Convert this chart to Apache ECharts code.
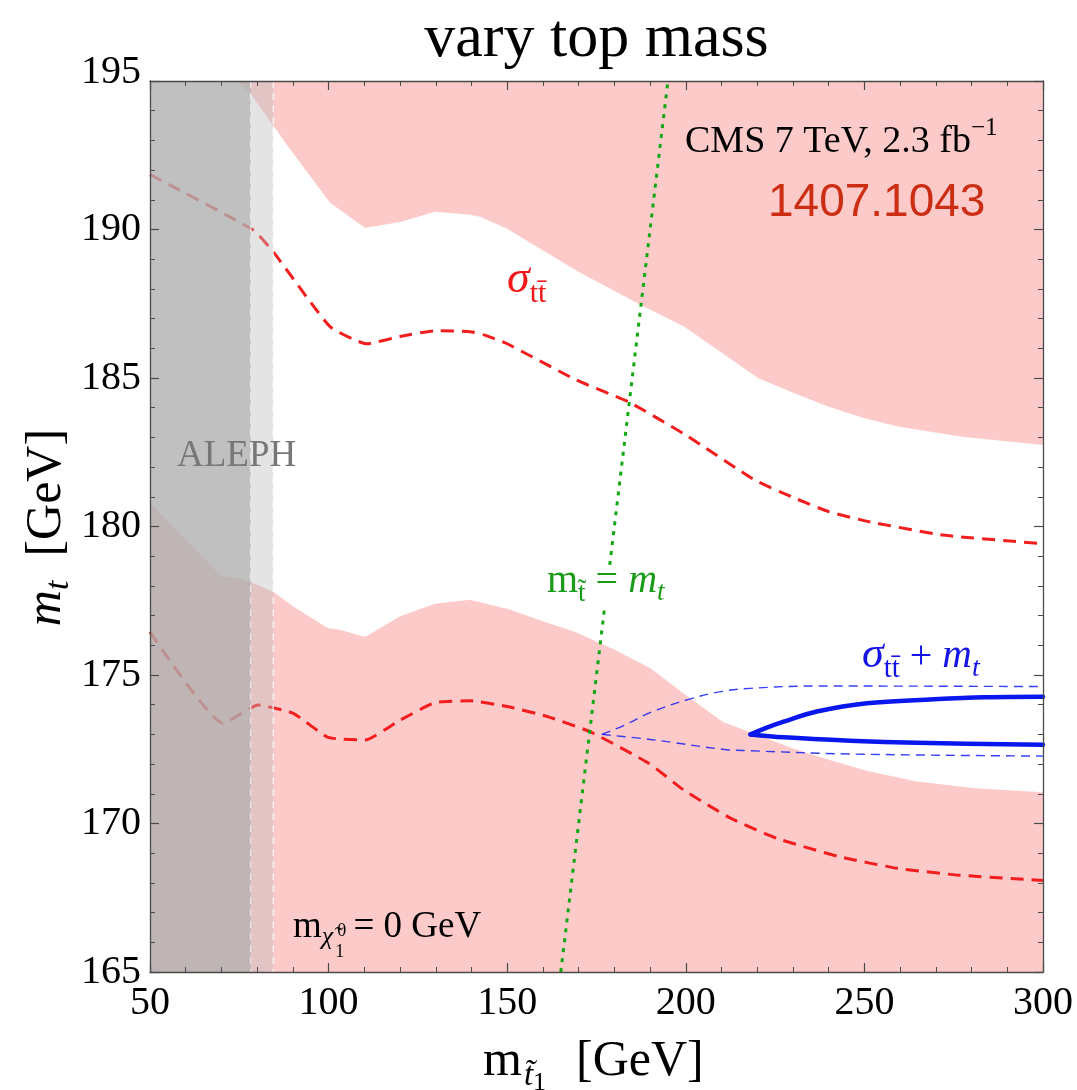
<!DOCTYPE html>
<html>
<head>
<meta charset="utf-8">
<title>vary top mass</title>
<script src="https://cdn.jsdelivr.net/npm/echarts@6/dist/echarts.min.js"></script>
<style>
  html, body { margin: 0; padding: 0; background: #ffffff; }
  #chart { width: 1077px; height: 1090px; }
</style>
</head>
<body>
<div id="chart"></div>
<script>
// Axis ranges (GeV): stop mass on x, top mass on y
const xRange = [50, 300];
const yRange = [165, 195];
const xStep = 50;
const yStep = 5;

// Cross-section exclusion: edge of the region reaching up to the top of the plot
const sigmaUpperEdge = [
  [74.4, 195], [78, 194.6], [84.5, 193.5], [88.3, 192.85], [100.4, 190.9],
  [110.2, 190.05], [120, 190.25], [129.8, 190.6], [139.6, 190.5], [142.4, 190.43],
  [149.7, 190.04], [169.9, 188.58], [188.1, 187.42], [199.5, 186.73], [220.3, 184.99],
  [230.6, 184.48], [240, 184.03], [250.3, 183.64], [259.7, 183.36], [277.3, 183.02],
  [300, 182.74]
];

// Cross-section exclusion: edge of the region reaching down to the bottom of the plot
const sigmaLowerEdge = [
  [50, 180.8], [70.1, 178.31], [73.8, 178.29], [78, 178.14], [84.5, 177.8],
  [90.2, 177.3], [99.9, 176.57], [103.2, 176.52], [110.2, 176.28], [120, 176.98],
  [129.8, 177.4], [139.6, 177.53], [150.4, 177.21], [160.2, 176.8], [168.9, 176.46],
  [179.8, 175.87], [190.1, 175.23], [199.4, 174.38], [210.3, 173.43], [220.1, 172.98],
  [229.9, 172.53], [238.6, 172.2], [250.6, 171.78], [264.7, 171.41], [281.1, 171.19],
  [300, 171.05]
];

// Central cross-section curves (red dashed)
const sigmaUpperCentral = [
  [50, 191.85], [78.9, 189.98], [84.5, 189.25], [100.4, 186.73], [110.7, 186.15],
  [120, 186.4], [129.8, 186.59], [139.6, 186.56], [143.5, 186.45], [149.7, 186.17],
  [169.4, 184.93], [183.9, 184.2], [200, 183.08], [219.2, 181.57], [230.6, 180.95],
  [240, 180.5], [251.4, 180.16], [272.1, 179.71], [300, 179.42]
];
const sigmaLowerCentral = [
  [50, 176.45], [70.5, 173.37], [80.3, 173.99], [90.1, 173.71], [99.9, 172.9],
  [110.2, 172.81], [120, 173.48], [129.8, 174.07], [139.6, 174.13], [150.4, 173.93],
  [161.3, 173.6], [173.2, 173.09], [189.6, 172.03], [199.4, 171.13], [212.5, 170.18],
  [225.5, 169.5], [243, 168.88], [259.3, 168.49], [275.6, 168.27], [300, 168.08]
];

// m_stop = m_top
const stopEqualsTop = [[165, 165], [195, 195]];

// Combined cross-section + top mass fit: dashed and solid contours (two branches each)
const comboDashUpper = [
  [176.5, 173.0], [183, 173.32], [190, 173.73], [200.8, 174.18], [210.3, 174.45],
  [218.1, 174.55], [236.7, 174.63], [300, 174.61]
];
const comboDashLower = [
  [176.5, 173.0], [190, 172.83], [210.3, 172.5], [218.1, 172.45], [246, 172.34],
  [300, 172.27]
];
const comboSolidUpper = [
  [218.1, 173.0], [222.5, 173.22], [227.4, 173.43], [236.7, 173.77], [250.7, 174.05],
  [269.4, 174.18], [283.4, 174.25], [300, 174.27]
];
const comboSolidLower = [
  [218.1, 173.0], [227.4, 172.9], [246, 172.79], [264.7, 172.72], [300, 172.65]
];

// LEP (ALEPH) stop-mass exclusion bands: [from, to]
const alephBands = [[50, 78.2], [78.2, 84.5]];

// ---------------------------------------------------------------------------
const SERIF = '"Liberation Serif", "Times New Roman", serif';
const SANS = '"Liberation Sans", Arial, sans-serif';
const PINK = '#fdcaca';
const BAND_FILL = ['rgba(175,175,175,0.79)', 'rgba(187,187,187,0.40)'];
const AXIS_COLOR = '#4a4a4a';
const MID = 0.30; // distance from alphabetic baseline to the 'middle' line, in em

const measureCtx = document.createElement('canvas').getContext('2d');
function textWidth(t, size, italic, family) {
  measureCtx.font = (italic ? 'italic ' : '') + size + 'px ' + family;
  return measureCtx.measureText(t).width;
}

// Lays out a run of text pieces on a common baseline (with sub/superscript shifts)
function richLabel(parts, opt) {
  let cursor = 0;
  const children = [];
  parts.forEach(p => {
    const fam = p.f || SERIF;
    const w = textWidth(p.t, p.s, p.i, fam);
    children.push({
      type: 'text',
      x: cursor + (p.dx || 0),
      y: (p.dy || 0) - MID * p.s,
      z: 100,
      style: {
        text: p.t, fontSize: p.s, fontFamily: fam,
        fontStyle: p.i ? 'italic' : 'normal',
        fill: p.c || opt.color, align: 'left', verticalAlign: 'middle'
      }
    });
    if (!p.hold) cursor += w + (p.dx || 0);
  });
  const shift = opt.anchor === 'center' ? -cursor / 2 : 0;
  children.forEach(c => { c.x += shift; });
  return {
    type: 'group', x: opt.x, y: opt.y, rotation: opt.rotation || 0,
    z: 100, silent: true, children
  };
}

const graphics = [
  // title
  richLabel([{ t: 'vary top mass', s: 62 }], { x: 596.5, y: 58, anchor: 'center', color: '#000' }),
  // x axis title
  richLabel([
    { t: 'm', s: 50 },
    { t: 't\u0303', s: 33, i: true, dy: 9, dx: 2 },
    { t: '1', s: 26, dy: 14 },
    { t: '[GeV]', s: 50, dx: 30 }
  ], { x: 483, y: 1077, color: '#000' }),
  // y axis title
  richLabel([
    { t: 'm', s: 50, i: true },
    { t: 't', s: 34, i: true, dy: 7 },
    { t: '[GeV]', s: 50, dx: 24 }
  ], { x: 62, y: 527.5, anchor: 'center', rotation: Math.PI / 2, color: '#000' }),
  // data set / luminosity
  richLabel([
    { t: 'CMS 7 TeV, 2.3 fb', s: 38 },
    { t: '\u22121', s: 25, dy: -17 }
  ], { x: 685, y: 153, color: '#000' }),
  richLabel([{ t: '1407.1043', s: 46, f: SANS }], { x: 768, y: 217, color: '#cc2e14' }),
  // LEP band label
  richLabel([{ t: 'ALEPH', s: 37 }], { x: 177, y: 467, color: '#777777' }),
  // neutralino mass note
  richLabel([
    { t: 'm', s: 37 },
    { t: '\u03c7\u0303', s: 26, i: true, dy: 7 },
    { t: '0', s: 18, dy: -1, dx: 4, hold: true },
    { t: '1', s: 18, dy: 20, dx: 2 },
    { t: ' = 0 GeV', s: 37 }
  ], { x: 293, y: 938, color: '#000' }),
  // cross-section curve label
  richLabel([
    { t: '\u03c3', s: 46, i: true },
    { t: 'tt\u0304', s: 30, dy: 9 }
  ], { x: 507, y: 294, color: '#f01818' }),
  // white patch behind the green label, then the label
  { type: 'rect', shape: { x: 542, y: 565, width: 130, height: 43 }, style: { fill: '#ffffff' }, z: 90, silent: true },
  richLabel([
    { t: 'm', s: 40 },
    { t: 't\u0303', s: 27, dy: 9 },
    { t: ' = ', s: 40 },
    { t: 'm', s: 40, i: true },
    { t: 't', s: 27, i: true, dy: 8 }
  ], { x: 547, y: 593, color: '#1a9c1a' }),
  // combined fit label
  richLabel([
    { t: '\u03c3', s: 44, i: true },
    { t: 'tt\u0304', s: 29, dy: 9 },
    { t: ' + ', s: 40 },
    { t: 'm', s: 41, i: true },
    { t: 't', s: 28, i: true, dy: 8 }
  ], { x: 862, y: 669, color: '#1414e6' })
];

function axisBase(extra) {
  return Object.assign({
    type: 'value',
    axisLine: { show: true, onZero: false, lineStyle: { color: AXIS_COLOR, width: 1.3 } },
    axisTick: { show: true, inside: true, length: 9, lineStyle: { color: AXIS_COLOR, width: 1.2 } },
    minorTick: { show: true, splitNumber: 5, length: 5, lineStyle: { color: AXIS_COLOR, width: 1 } },
    splitLine: { show: false },
    minorSplitLine: { show: false },
    z: 10
  }, extra);
}

const tickFont = { fontFamily: SERIF, fontSize: 40, color: '#000' };

function curve(name, data, style, z, smooth) {
  return {
    type: 'line', name, data, symbol: 'none', silent: true, z,
    smooth: smooth || false, lineStyle: style
  };
}

const redDash = { color: '#f41d1d', width: 3, type: [13, 8] };
const blueDash = { color: 'rgba(20,30,245,0.85)', width: 1.4, type: [9, 6] };
const blueSolid = { color: '#0a16ee', width: 4.5, cap: 'round', join: 'round' };

const option = {
  animation: false,
  backgroundColor: '#ffffff',
  grid: { left: 150, right: 34, top: 81, bottom: 118, containLabel: false },
  xAxis: [
    axisBase({
      min: xRange[0], max: xRange[1], interval: xStep, position: 'bottom',
      axisLabel: Object.assign({ margin: 11 }, tickFont)
    }),
    axisBase({
      min: xRange[0], max: xRange[1], interval: xStep, position: 'top',
      axisLabel: { show: false }
    })
  ],
  yAxis: [
    axisBase({
      min: yRange[0], max: yRange[1], interval: yStep, position: 'left',
      axisLabel: Object.assign({
        margin: 9,
        formatter: v => (v === yRange[1] ? '{hi|' + v + '}' : '{n|' + v + '}'),
        rich: {
          n: Object.assign({}, tickFont),
          hi: Object.assign({ padding: [0, 0, 18, 0] }, tickFont)
        }
      }, tickFont)
    }),
    axisBase({
      min: yRange[0], max: yRange[1], interval: yStep, position: 'right',
      axisLabel: { show: false }
    })
  ],
  series: [
    {
      type: 'line', name: 'sigma-upper-region', data: sigmaUpperEdge,
      symbol: 'none', silent: true, z: 1,
      lineStyle: { width: 0, opacity: 0 },
      areaStyle: { color: PINK, opacity: 1, origin: 'end' }
    },
    {
      type: 'line', name: 'sigma-lower-region', data: sigmaLowerEdge,
      symbol: 'none', silent: true, z: 1,
      lineStyle: { width: 0, opacity: 0 },
      areaStyle: { color: PINK, opacity: 1, origin: 'start' }
    },
    curve('sigma-central-upper', sigmaUpperCentral, redDash, 2, 0.15),
    curve('sigma-central-lower', sigmaLowerCentral, redDash, 2, 0.15),
    {
      type: 'custom', name: 'aleph', silent: true, z: 3, clip: true,
      data: alephBands.map((b, i) => [b[0], b[1], i]),
      encode: { x: [0, 1] },
      renderItem: (params, api) => {
        const p0 = api.coord([api.value(0), yRange[1]]);
        const p1 = api.coord([api.value(1), yRange[0]]);
        const idx = api.value(2);
        return {
          type: 'group',
          children: [
            {
              type: 'rect',
              shape: { x: p0[0], y: p0[1], width: p1[0] - p0[0], height: p1[1] - p0[1] },
              style: { fill: BAND_FILL[idx] }
            },
            {
              type: 'line',
              shape: { x1: p1[0], y1: p0[1], x2: p1[0], y2: p1[1] },
              style: { stroke: 'rgba(255,255,255,0.7)', lineWidth: 1.5, lineDash: [7, 5] }
            }
          ]
        };
      }
    },
    curve('stop-equals-top', stopEqualsTop, { color: '#12a812', width: 3, type: [4, 6] }, 4),
    curve('combined-dashed-upper', comboDashUpper, blueDash, 4, 0.4),
    curve('combined-dashed-lower', comboDashLower, blueDash, 4, 0.4),
    curve('combined-solid-upper', comboSolidUpper, blueSolid, 4, 0.35),
    curve('combined-solid-lower', comboSolidLower, blueSolid, 4, 0.35)
  ],
  graphic: graphics
};

const chart = echarts.init(document.getElementById('chart'), null, { renderer: 'canvas' });
chart.setOption(option);
</script>
</body>
</html>
